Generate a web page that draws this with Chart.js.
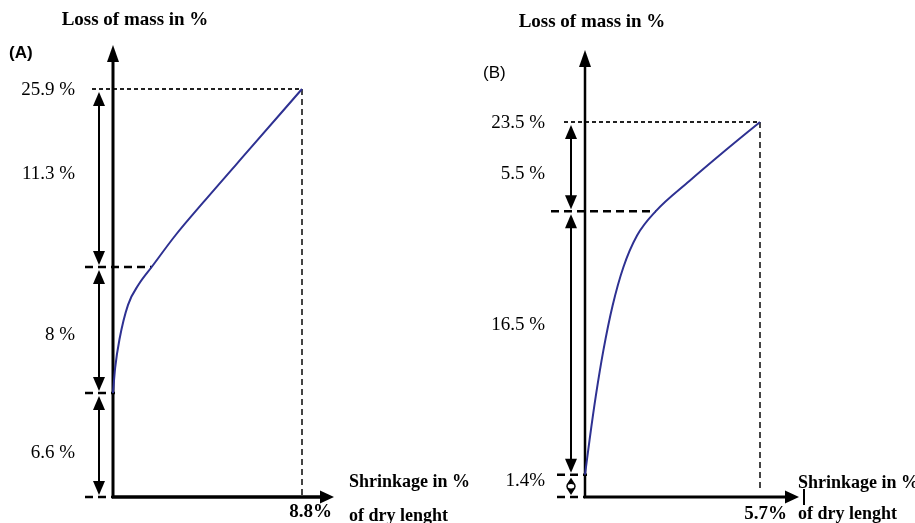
<!DOCTYPE html>
<html>
<head>
<meta charset="utf-8">
<script src="https://cdn.jsdelivr.net/npm/chart.js@4/dist/chart.umd.min.js"></script>
<style>
  html, body { margin: 0; padding: 0; background: #fff; }
  #wrap { position: relative; width: 915px; height: 523px; }
  #wrap canvas { position: absolute; left: 0; top: 0; }
</style>
</head>
<body>
<div id="wrap">
  <canvas id="cA" width="915" height="523"></canvas>
  <canvas id="cB" width="915" height="523"></canvas>
</div>
<script>
// ---- Panel A: shrinkage (% of dry length) vs. loss of mass (%) ----
const shrinkA = [0, 0.1, 0.3, 0.7, 1.2, 1.8, 2.9, 4.2, 6.5, 8.8];
const lossA   = [6.6, 8.2, 10.0, 12.2, 13.5, 14.6, 16.6, 18.7, 22.3, 25.9];
const levelsA = [0, 6.6, 14.6, 25.9];          // stage boundaries, bottom to top
const stepLabelsA = ['6.6 %', '8 %', '11.3 %'];
const totalLabelA = '25.9 %';
const shrinkEndA = 8.8;
const shrinkLabelA = '8.8%';

// ---- Panel B ----
const shrinkB = [0, 0.15, 0.35, 0.6, 0.9, 1.25, 1.7, 2.3, 3.4, 4.5, 5.7];
const lossB   = [1.4, 3.6, 6.3, 9.2, 12.0, 14.4, 16.4, 17.9, 19.8, 21.6, 23.5];
const levelsB = [0, 1.4, 17.9, 23.5];
const stepLabelsB = ['1.4%', '16.5 %', '5.5 %'];
const totalLabelB = '23.5 %';
const shrinkEndB = 5.7;
const shrinkLabelB = '5.7%';

const yTitle = 'Loss of mass in %';
const xTitle1 = 'Shrinkage in %';
const xTitle2 = 'of dry lenght';

const SERIF = "'Liberation Serif', 'Times New Roman', serif";
const SANS = "'Liberation Sans', Arial, sans-serif";
const CURVE = '#2e3192';

function head(ctx, x, y, dir, w, l) {
  ctx.beginPath();
  if (dir === 'up') { ctx.moveTo(x, y); ctx.lineTo(x - w / 2, y + l); ctx.lineTo(x + w / 2, y + l); }
  else if (dir === 'down') { ctx.moveTo(x, y); ctx.lineTo(x - w / 2, y - l); ctx.lineTo(x + w / 2, y - l); }
  else { ctx.moveTo(x, y); ctx.lineTo(x - l, y - w / 2); ctx.lineTo(x - l, y + w / 2); }
  ctx.closePath();
  ctx.fill();
}

function seg(ctx, x1, y1, x2, y2, width, dash, color) {
  ctx.save();
  ctx.strokeStyle = color || '#000';
  ctx.lineWidth = width;
  ctx.setLineDash(dash || []);
  ctx.beginPath();
  ctx.moveTo(x1, y1);
  ctx.lineTo(x2, y2);
  ctx.stroke();
  ctx.restore();
}

// x on the curve where it reaches a given loss level
function curveXAt(xs, ys, level) {
  for (let i = 1; i < ys.length; i++) {
    if (ys[i] >= level) {
      const t = (level - ys[i - 1]) / (ys[i] - ys[i - 1]);
      return xs[i - 1] + t * (xs[i] - xs[i - 1]);
    }
  }
  return xs[xs.length - 1];
}

function diagram(P) {
  return {
    id: 'diagram',
    beforeDatasetsDraw(chart) {
      const ctx = chart.ctx;
      const sx = chart.scales.x, sy = chart.scales.y;
      const x0 = sx.getPixelForValue(0);
      const y0 = sy.getPixelForValue(0);
      const xe = sx.getPixelForValue(P.shrinkEnd);
      const lv = P.levels.map(v => sy.getPixelForValue(v));
      const yTop = lv[lv.length - 1];
      const dx = x0 - P.dimGap;
      const kinkX = sx.getPixelForValue(curveXAt(P.xs, P.ys, P.levels[2]));

      ctx.save();
      ctx.fillStyle = '#000';

      // reference lines to the end point
      seg(ctx, xe, yTop, xe, P.vEnd, 2, [6, 4], '#444');
      seg(ctx, dx - 7, yTop, xe, yTop, 2, [4, 3], '#222');

      // stage boundaries
      seg(ctx, dx - 14, y0, x0, y0, 2.5, [8, 5]);
      seg(ctx, dx - 14, lv[1], x0 + 2, lv[1], 2.5, [8, 5]);
      seg(ctx, dx - P.midReach, lv[2], kinkX, lv[2], 2.5, [8, 5]);

      // dimension arrows between boundaries
      for (let i = 0; i < lv.length - 1; i++) {
        const yb = lv[i] - 2, yt = lv[i + 1] + 3;
        const small = (yb - yt) < 40;
        const w = small ? 9 : 12, l = small ? 7 : 14;
        seg(ctx, dx, yb - l + 1, dx, yt + l - 1, 2);
        head(ctx, dx, yt, 'up', w, l);
        head(ctx, dx, yb, 'down', w, l);
        if (small) {
          ctx.save();
          ctx.fillStyle = '#fff';
          ctx.strokeStyle = '#000';
          ctx.lineWidth = 1.5;
          ctx.beginPath();
          ctx.ellipse(dx, (yb + yt) / 2, 4, 3, 0, 0, Math.PI * 2);
          ctx.fill();
          ctx.stroke();
          ctx.restore();
        }
      }

      // axes with arrows
      seg(ctx, x0, y0 + 1, x0, P.axisTip + 14, P.yAxisW);
      head(ctx, x0, P.axisTip, 'up', 12, 17);
      seg(ctx, x0 - 1, y0, P.xTip - 12, y0, P.xAxisW);
      head(ctx, P.xTip, y0, 'right', 13, 14);

      // texts
      ctx.textBaseline = 'middle';
      ctx.font = 'bold 19px ' + SERIF;
      ctx.textAlign = 'center';
      ctx.fillText(yTitle, P.titleX, P.titleY);

      ctx.font = (P.tagBold ? 'bold ' : '') + '17px ' + SANS;
      ctx.textAlign = 'left';
      ctx.fillText(P.tag, P.tagX, P.tagY);

      ctx.font = '19px ' + SERIF;
      ctx.textAlign = 'right';
      ctx.fillText(P.totalLabel, x0 - P.labelGap, yTop + 1);
      for (let i = 0; i < P.stepLabels.length; i++) {
        const ym = (lv[i] + lv[i + 1]) / 2 + P.labelShift[i];
        ctx.fillText(P.stepLabels[i], x0 - P.labelGap, ym);
      }

      ctx.font = 'bold 19px ' + SERIF;
      ctx.fillText(P.shrinkLabel, P.xValueRight, P.xValueY);
      ctx.font = 'bold 18px ' + SERIF;
      ctx.textAlign = 'left';
      ctx.fillText(xTitle1, P.xNameX, P.xNameY1);
      ctx.fillText(xTitle2, P.xNameX, P.xNameY2);
      if (P.nameTick) seg(ctx, P.xNameX + 6, 489, P.xNameX + 6, 505, 2);
      ctx.restore();
    }
  };
}

function build(P) {
  new Chart(document.getElementById(P.canvas), {
    type: 'scatter',
    data: {
      datasets: [{
        data: P.xs.map((x, i) => ({ x: x, y: P.ys[i] })),
        showLine: true,
        borderColor: CURVE,
        borderWidth: 2,
        pointRadius: 0,
        cubicInterpolationMode: 'monotone',
        fill: false,
        clip: false
      }]
    },
    options: {
      responsive: false,
      animation: false,
      devicePixelRatio: 1,
      events: [],
      layout: { padding: P.pad },
      plugins: { legend: { display: false }, tooltip: { enabled: false } },
      scales: {
        x: { type: 'linear', min: 0, max: P.shrinkEnd, display: false },
        y: { type: 'linear', min: 0, max: P.levels[P.levels.length - 1], display: false }
      }
    },
    plugins: [diagram(P)]
  });
}

build({
  canvas: 'cA', xs: shrinkA, ys: lossA, levels: levelsA,
  stepLabels: stepLabelsA, totalLabel: totalLabelA,
  shrinkEnd: shrinkEndA, shrinkLabel: shrinkLabelA,
  pad: { left: 113, right: 613, top: 89, bottom: 26 },
  axisTip: 45, xTip: 334, vEnd: 497, dimGap: 14, labelGap: 38, midReach: 14,
  labelShift: [8, 5, -4], yAxisW: 3, xAxisW: 3.5,
  titleX: 135, titleY: 20, tag: '(A)', tagBold: true, tagX: 9, tagY: 53,
  xValueRight: 332, xValueY: 512, xNameX: 349, xNameY1: 482, xNameY2: 516, nameTick: false
});

build({
  canvas: 'cB', xs: shrinkB, ys: lossB, levels: levelsB,
  stepLabels: stepLabelsB, totalLabel: totalLabelB,
  shrinkEnd: shrinkEndB, shrinkLabel: shrinkLabelB,
  pad: { left: 585, right: 155, top: 122, bottom: 26 },
  axisTip: 50, xTip: 799, vEnd: 490, dimGap: 14, labelGap: 40, midReach: 20,
  labelShift: [-5, -18, 7], yAxisW: 2.5, xAxisW: 3,
  titleX: 592, titleY: 22, tag: '(B)', tagBold: false, tagX: 483, tagY: 73,
  xValueRight: 787, xValueY: 514, xNameX: 798, xNameY1: 483, xNameY2: 514, nameTick: true
});
</script>
</body>
</html>
